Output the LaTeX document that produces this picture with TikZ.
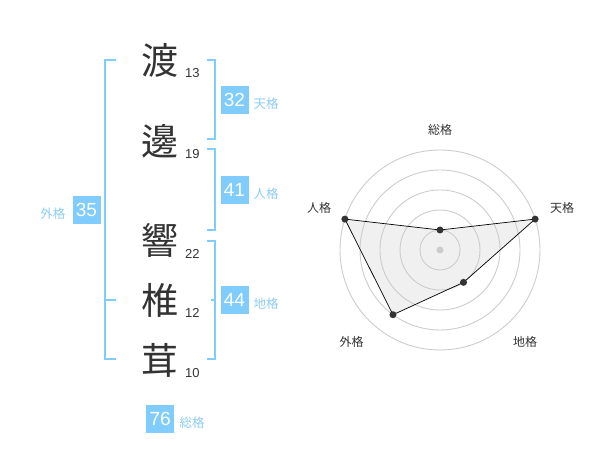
\documentclass[tikz,border=0pt]{standalone}
\usepackage{fontspec}
\setmainfont{Liberation Sans}
\newfontfamily\cjk{Noto Sans CJK JP}
\definecolor{boxblue}{RGB}{128,204,252}
\definecolor{lblblue}{RGB}{140,204,245}
\definecolor{ink}{RGB}{51,51,51}
\definecolor{ring}{RGB}{204,204,204}
\definecolor{area}{RGB}{240,240,240}
\tikzset{
  kanji/.style={font=\cjk\fontsize{37}{37}\selectfont, text=ink, inner sep=0pt, anchor=center},
  strokes/.style={font=\fontsize{13}{13}\selectfont, text=ink, inner sep=0pt, anchor=base west},
  valbox/.style={fill=boxblue, text=white, minimum width=28pt, minimum height=28pt, inner sep=0pt, font=\fontsize{19}{19}\selectfont},
  lbl/.style={font=\cjk\fontsize{12.5}{12.5}\selectfont, text=lblblue, inner sep=0pt},
  brk/.style={draw=boxblue, line width=1.8pt},
  radarlbl/.style={font=\cjk\fontsize{12}{12}\selectfont, text=ink, inner sep=0pt},
  ringline/.style={draw=ring, line width=0.9pt},
  dot/.style={circle, fill=ink, inner sep=0pt, minimum size=7pt},
}
\begin{document}
\begin{tikzpicture}[x=1pt,y=-1pt]
\useasboundingbox (0,0) rectangle (600,470);
% kanji and stroke counts
\node[kanji] (k1) at (160,60) {渡};
\node[kanji] (k2) at (160,141) {邊};
\node[kanji] (k3) at (160,240) {響};
\node[kanji] (k4) at (160,300) {椎};
\node[kanji] (k5) at (160,360) {茸};
\node[strokes] (s1) at (185,77.3) {13};
\node[strokes] (s2) at (185,158.3) {19};
\node[strokes] (s3) at (185,258.3) {22};
\node[strokes] (s4) at (185,317.7) {12};
\node[strokes] (s5) at (185,377.7) {10};
% brackets
\draw[brk] (116,60) -- (105,60) -- (105,359.3) -- (116,359.3);
\draw[brk] (105,300) -- (116,300);
\draw[brk] (206.7,60) -- (215,60) -- (215,139.3) -- (206.7,139.3);
\draw[brk] (206.7,149.3) -- (215,149.3) -- (215,230) -- (206.7,230);
\draw[brk] (206.7,240.7) -- (215,240.7) -- (215,359.3) -- (206.7,359.3);
\draw[brk] (210.7,300) -- (215,300);
% value boxes and labels
\node[valbox] (b32) at (234.5,100.2) {32};
\node[lbl, anchor=west] (l32) at (253.5,104) {天格};
\node[valbox] (b41) at (234.5,190.2) {41};
\node[lbl, anchor=west] (l41) at (253.5,194) {人格};
\node[valbox] (b44) at (234.5,300.2) {44};
\node[lbl, anchor=west] (l44) at (253.5,304) {地格};
\node[valbox] (b35) at (86.5,210) {35};
\node[lbl, anchor=east] (l35) at (65.5,213.5) {外格};
\node[valbox] (b76) at (160.2,418.8) {76};
\node[lbl, anchor=west] (l76) at (179.5,422.5) {総格};
% radar chart
\begin{scope}[shift={(440,250)}]
  \coordinate (c) at (0,0);
  \coordinate (pS) at (-90:20);
  \coordinate (pT) at (-18:100);
  \coordinate (pC) at (54:40);
  \coordinate (pG) at (126:80);
  \coordinate (pJ) at (198:100);
  \fill[area] (pS) -- (pT) -- (pC) -- (pG) -- (pJ) -- cycle;
  \foreach \r in {20,40,60,80,100} \draw[ringline] (c) circle[radius=\r];
  \fill[ring] (c) circle[radius=3.5];
  \draw[black, line width=0.7pt] (pS) -- (pT) -- (pC) -- (pG) -- (pJ) -- cycle;
  \foreach \p in {pS,pT,pC,pG,pJ} \node[dot] at (\p) {};
\end{scope}
\node[radarlbl] (rS) at (440,130) {総格};
\node[radarlbl] (rT) at (562,208.3) {天格};
\node[radarlbl] (rJ) at (319,208.3) {人格};
\node[radarlbl] (rG) at (351.7,341.7) {外格};
\node[radarlbl] (rC) at (525,341.5) {地格};
\end{tikzpicture}
\end{document}
